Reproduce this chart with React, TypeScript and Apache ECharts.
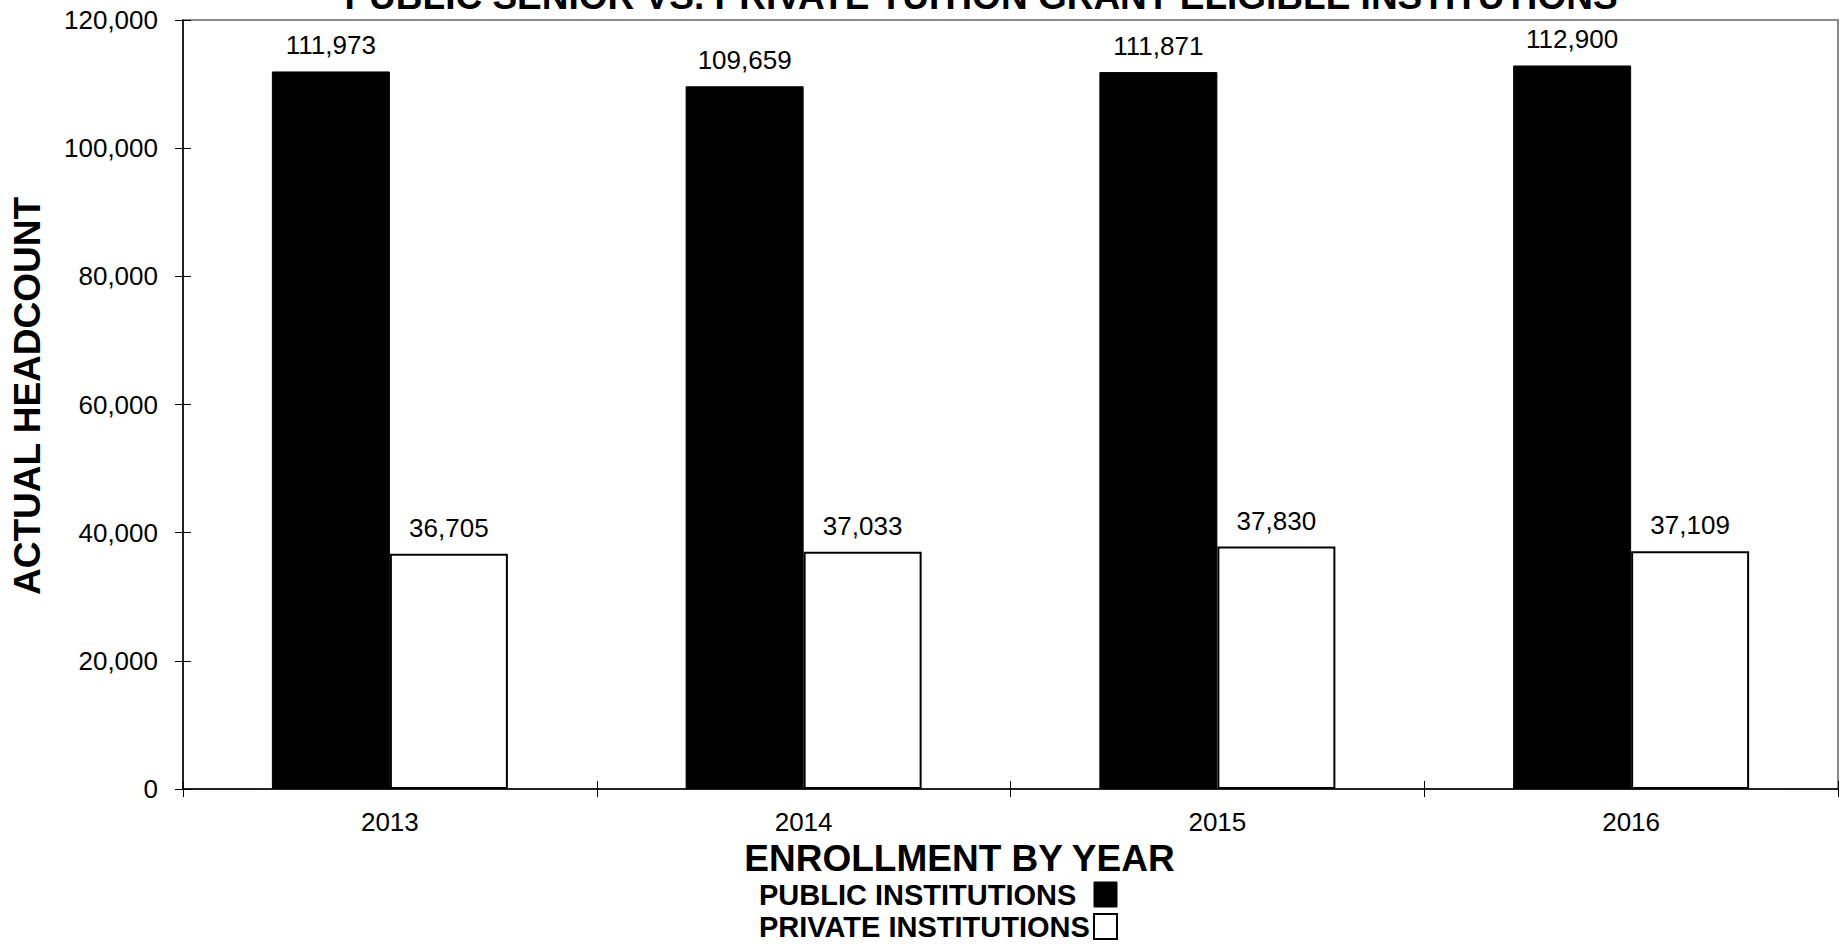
import React, { useEffect, useRef } from "react";
import * as echarts from "echarts";

const categories = ["2013", "2014", "2015", "2016"];
const publicValues = [111973, 109659, 111871, 112900];
const privateValues = [36705, 37033, 37830, 37109];
const seriesNames = ["PUBLIC INSTITUTIONS", "PRIVATE INSTITUTIONS"];
const titleText = "PUBLIC SENIOR VS. PRIVATE TUITION GRANT ELIGIBLE INSTITUTIONS";
const xAxisTitle = "ENROLLMENT BY YEAR";
const yAxisTitle = "ACTUAL HEADCOUNT";
const yMin = 0;
const yMax = 120000;
const yStep = 20000;

const FONT = '"Liberation Sans", Arial, Helvetica, sans-serif';
const fmt = (v: number) => Number(v).toLocaleString("en-US");

export default function App() {
  const ref = useRef<HTMLDivElement>(null);
  useEffect(() => {
    if (!ref.current) return;
    const chart = echarts.init(ref.current, undefined, { renderer: "svg" });
    const labelStyle = {
      show: true,
      position: "top" as const,
      distance: 13,
      color: "#000",
      fontFamily: FONT,
      fontSize: 26,
      formatter: (p: any) => fmt(p.value),
    };
    chart.setOption({
      animation: false,
      backgroundColor: "#fff",
      textStyle: { fontFamily: FONT, color: "#000" },
      title: {
        text: titleText,
        left: 981,
        top: -22,
        padding: 0,
        textAlign: "center",
        textStyle: { fontFamily: FONT, fontSize: 37, fontWeight: "bold", color: "#000" },
      },
      legend: {
        orient: "vertical",
        left: 759,
        top: 880,
        align: "right",
        itemGap: 3,
        itemWidth: 23,
        itemHeight: 25,
        padding: 0,
        formatter: (name: string) => `{a|${name}}`,
        textStyle: {
          fontFamily: FONT,
          fontSize: 29,
          fontWeight: "bold",
          color: "#000",
          rich: {
            a: { width: 330, align: "left", fontFamily: FONT, fontSize: 29, fontWeight: "bold", color: "#000" },
          },
        },
        data: [
          { name: seriesNames[0], icon: "rect", itemStyle: { color: "#000", borderColor: "#000", borderWidth: 1 } },
          { name: seriesNames[1], icon: "rect", itemStyle: { color: "#fff", borderColor: "#000", borderWidth: 2 } },
        ],
      },
      grid: {
        left: 183,
        right: 9,
        top: 20,
        bottom: 157,
        show: true,
        borderColor: "#8a8a8a",
        borderWidth: 2,
        backgroundColor: "transparent",
      },
      xAxis: [
        {
          type: "category",
          data: categories,
          position: "bottom",
          boundaryGap: true,
          axisLine: { show: true, lineStyle: { color: "#000", width: 1.5 } },
          axisTick: { show: true, length: 8, inside: false, lineStyle: { color: "#000" } },
          axisLabel: { margin: 20, color: "#000", fontFamily: FONT, fontSize: 26 },
          splitLine: { show: false },
          name: xAxisTitle,
          nameLocation: "middle",
          nameGap: 46,
          nameTextStyle: {
            fontFamily: FONT,
            fontSize: 37,
            fontWeight: "bold",
            color: "#000",
            padding: [0, 102, 0, 0],
          },
        },
        {
          type: "category",
          data: categories,
          position: "bottom",
          boundaryGap: true,
          axisLine: { show: false },
          axisTick: { show: true, length: 8, inside: true, lineStyle: { color: "#000" } },
          axisLabel: { show: false },
          splitLine: { show: false },
        },
      ],
      yAxis: [
        {
          type: "value",
          min: yMin,
          max: yMax,
          interval: yStep,
          position: "left",
          axisLine: { show: true, lineStyle: { color: "#000", width: 1.5 } },
          axisTick: { show: true, length: 8, inside: false, lineStyle: { color: "#000" } },
          axisLabel: { margin: 25, color: "#000", fontFamily: FONT, fontSize: 26, formatter: (v: number) => fmt(v) },
          splitLine: { show: false },
          name: yAxisTitle,
          nameLocation: "middle",
          nameRotate: 90,
          nameGap: 137,
          nameTextStyle: {
            fontFamily: FONT,
            fontSize: 37,
            fontWeight: "bold",
            color: "#000",
            padding: [0, 0, 0, 17],
          },
        },
        {
          type: "value",
          min: yMin,
          max: yMax,
          interval: yStep,
          position: "left",
          axisLine: { show: false },
          axisTick: { show: true, length: 8, inside: true, lineStyle: { color: "#000" } },
          axisLabel: { show: false },
          splitLine: { show: false },
        },
      ],
      series: [
        {
          name: seriesNames[0],
          type: "bar",
          xAxisIndex: 0,
          yAxisIndex: 0,
          data: publicValues,
          barWidth: 118,
          barGap: "0%",
          itemStyle: { color: "#000", borderColor: "#000", borderWidth: 1 },
          label: labelStyle,
        },
        {
          name: seriesNames[1],
          type: "bar",
          xAxisIndex: 0,
          yAxisIndex: 0,
          data: privateValues,
          barWidth: 118,
          barGap: "0%",
          itemStyle: { color: "#fff", borderColor: "#000", borderWidth: 2 },
          label: labelStyle,
        },
      ],
    });
    return () => chart.dispose();
  }, []);
  return (
    <div
      ref={ref}
      style={{ position: "fixed", left: 0, top: 0, width: "1847px", height: "946px", background: "#fff" }}
    />
  );
}
